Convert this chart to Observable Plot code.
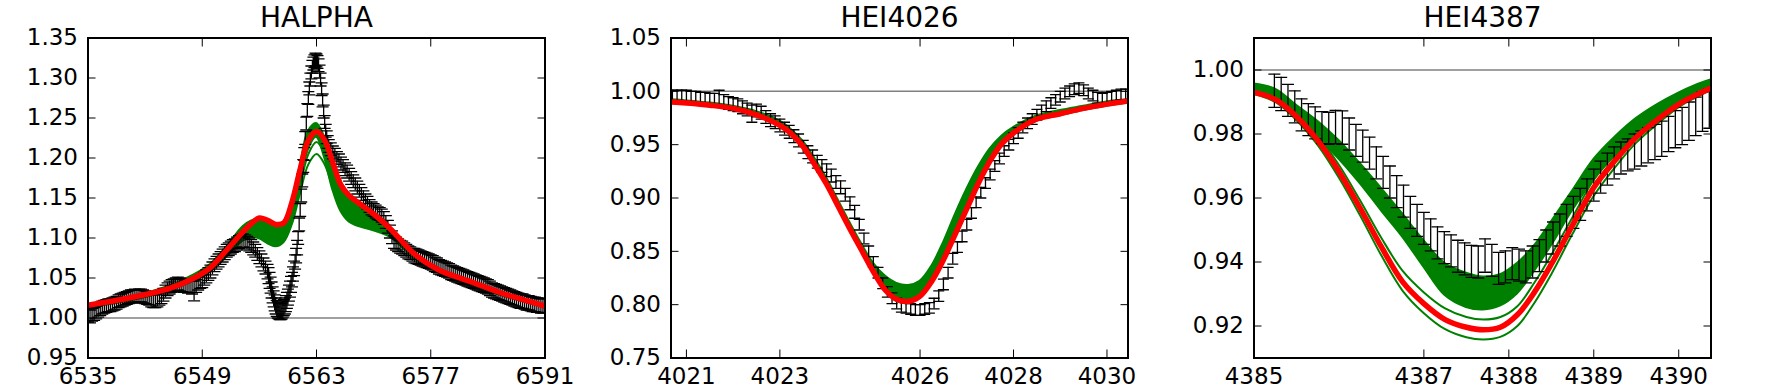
<!DOCTYPE html>
<html><head><meta charset="utf-8">
<script src="https://cdn.jsdelivr.net/npm/d3@7"></script>
<script src="https://cdn.jsdelivr.net/npm/@observablehq/plot@0.6"></script>
<style>
body{margin:0;background:#fff;}
#wrap{position:relative;width:1765px;height:390px;overflow:hidden;background:#fff;}
#wrap svg{position:absolute;top:0;}
</style></head><body><div id="wrap"></div>
<script>
// ---------- HALPHA ----------
const haTitle = "HALPHA";
const haXTicks = [6535, 6549, 6563, 6577, 6591];
const haYTicks = [0.95, 1.00, 1.05, 1.10, 1.15, 1.20, 1.25, 1.30, 1.35];
const haModelX = [6535, 6540, 6545, 6548, 6550, 6552, 6554, 6555, 6556, 6557, 6558, 6559, 6560, 6561, 6562, 6563, 6564, 6565, 6566, 6567, 6568, 6570, 6572, 6575, 6578, 6582, 6586, 6591];
const haRed = [1.016, 1.025, 1.037, 1.050, 1.063, 1.085, 1.108, 1.118, 1.125, 1.122, 1.117, 1.119, 1.145, 1.186, 1.222, 1.233, 1.222, 1.194, 1.166, 1.153, 1.145, 1.130, 1.112, 1.080, 1.060, 1.045, 1.030, 1.015];
const haGreenLo = [1.013, 1.021, 1.034, 1.046, 1.057, 1.076, 1.096, 1.100, 1.099, 1.093, 1.089, 1.094, 1.120, 1.165, 1.210, 1.226, 1.200, 1.160, 1.133, 1.120, 1.115, 1.109, 1.101, 1.075, 1.056, 1.041, 1.027, 1.013];
const haGreenHi = [1.016, 1.025, 1.040, 1.054, 1.067, 1.089, 1.114, 1.121, 1.123, 1.119, 1.114, 1.117, 1.143, 1.190, 1.233, 1.243, 1.226, 1.192, 1.164, 1.150, 1.141, 1.127, 1.110, 1.079, 1.059, 1.043, 1.029, 1.014];
const haLineX = [6557, 6558, 6559, 6560, 6561, 6562, 6563, 6564, 6565, 6566, 6567, 6568, 6570];
const haGreenA = [1.098, 1.093, 1.098, 1.122, 1.165, 1.205, 1.220, 1.205, 1.172, 1.145, 1.130, 1.122, 1.114];
const haGreenB = [1.097, 1.092, 1.096, 1.118, 1.157, 1.192, 1.205, 1.192, 1.163, 1.138, 1.126, 1.119, 1.113];
const haObsX = [
  6535, 6535.25, 6535.5, 6535.75, 6536, 6536.25, 6536.5, 6536.75, 6537, 6537.25, 6537.5, 6537.75, 6538, 6538.25, 6538.5, 6538.75, 6539, 6539.25, 6539.5, 6539.75,
  6540, 6540.25, 6540.5, 6540.75, 6541, 6541.25, 6541.5, 6541.75, 6542, 6542.25, 6542.5, 6542.75, 6543, 6543.25, 6543.5, 6543.75, 6544, 6544.25, 6544.5, 6544.75,
  6545, 6545.25, 6545.5, 6545.75, 6546, 6546.25, 6546.5, 6546.75, 6547, 6547.25, 6547.5, 6547.75, 6548, 6548.25, 6548.5, 6548.75, 6549, 6549.25, 6549.5, 6549.75,
  6550, 6550.25, 6550.5, 6550.75, 6551, 6551.25, 6551.5, 6551.75, 6552, 6552.25, 6552.5, 6552.75, 6553, 6553.25, 6553.5, 6553.75, 6554, 6554.25, 6554.5, 6554.75,
  6555, 6555.25, 6555.5, 6555.75, 6556, 6556.25, 6556.5, 6556.75, 6557, 6557.25, 6557.5, 6557.75, 6558, 6558.25, 6558.5, 6558.75, 6559, 6559.25, 6559.5, 6559.75,
  6560, 6560.25, 6560.5, 6560.75, 6561, 6561.25, 6561.5, 6561.75, 6562, 6562.25, 6562.5, 6562.75, 6563, 6563.25, 6563.5, 6563.75, 6564, 6564.25, 6564.5, 6564.75,
  6565, 6565.25, 6565.5, 6565.75, 6566, 6566.25, 6566.5, 6566.75, 6567, 6567.25, 6567.5, 6567.75, 6568, 6568.25, 6568.5, 6568.75, 6569, 6569.25, 6569.5, 6569.75,
  6570, 6570.25, 6570.5, 6570.75, 6571, 6571.25, 6571.5, 6571.75, 6572, 6572.25, 6572.5, 6572.75, 6573, 6573.25, 6573.5, 6573.75, 6574, 6574.25, 6574.5, 6574.75,
  6575, 6575.25, 6575.5, 6575.75, 6576, 6576.25, 6576.5, 6576.75, 6577, 6577.25, 6577.5, 6577.75, 6578, 6578.25, 6578.5, 6578.75, 6579, 6579.25, 6579.5, 6579.75,
  6580, 6580.25, 6580.5, 6580.75, 6581, 6581.25, 6581.5, 6581.75, 6582, 6582.25, 6582.5, 6582.75, 6583, 6583.25, 6583.5, 6583.75, 6584, 6584.25, 6584.5, 6584.75,
  6585, 6585.25, 6585.5, 6585.75, 6586, 6586.25, 6586.5, 6586.75, 6587, 6587.25, 6587.5, 6587.75, 6588, 6588.25, 6588.5, 6588.75, 6589, 6589.25, 6589.5, 6589.75,
  6590, 6590.25, 6590.5, 6590.75,
  6557.125, 6557.375, 6557.625, 6557.875, 6558.125, 6558.375, 6558.625, 6558.875, 6559.125, 6559.375, 6559.625, 6559.875,
  6560.125, 6560.375, 6560.625, 6560.875, 6561.125, 6561.375, 6561.625, 6561.875, 6562.125, 6562.375, 6562.625, 6562.875, 6563.125, 6563.375, 6563.625, 6563.875, 6564.125, 6564.375];
const haObsY = [
  1.003, 1.002, 1.004, 1.005, 1.007, 1.009, 1.011, 1.013, 1.014, 1.015, 1.016, 1.016, 1.017, 1.018, 1.019, 1.021, 1.022, 1.023, 1.024, 1.025,
  1.026, 1.027, 1.027, 1.028, 1.027, 1.028, 1.028, 1.027, 1.026, 1.025, 1.024, 1.022, 1.021, 1.021, 1.022, 1.024, 1.026, 1.029, 1.033, 1.036,
  1.038, 1.040, 1.041, 1.042, 1.043, 1.042, 1.041, 1.040, 1.040, 1.039, 1.040, 1.038, 1.034, 1.040, 1.043, 1.045, 1.046, 1.049, 1.052, 1.055,
  1.058, 1.062, 1.066, 1.069, 1.072, 1.075, 1.078, 1.081, 1.084, 1.086, 1.088, 1.090, 1.091, 1.093, 1.095, 1.096, 1.097, 1.096, 1.094, 1.092,
  1.090, 1.087, 1.084, 1.080, 1.076, 1.072, 1.067, 1.063, 1.058, 1.047, 1.035, 1.024, 1.015, 1.010, 1.008, 1.009, 1.013, 1.018, 1.026, 1.036,
  1.048, 1.062, 1.078, 1.100, 1.135, 1.172, 1.205, 1.243, 1.275, 1.298, 1.314, 1.321, 1.322, 1.316, 1.298, 1.272, 1.245, 1.226, 1.215, 1.211,
  1.207, 1.204, 1.200, 1.197, 1.193, 1.190, 1.186, 1.183, 1.179, 1.175, 1.171, 1.167, 1.163, 1.159, 1.155, 1.151, 1.147, 1.144, 1.140, 1.137,
  1.135, 1.133, 1.131, 1.130, 1.128, 1.125, 1.120, 1.114, 1.108, 1.101, 1.095, 1.093, 1.091, 1.089, 1.088, 1.086, 1.084, 1.082, 1.081, 1.079,
  1.078, 1.077, 1.076, 1.075, 1.074, 1.073, 1.072, 1.071, 1.070, 1.069, 1.067, 1.066, 1.064, 1.063, 1.062, 1.061, 1.060, 1.059, 1.057, 1.056,
  1.055, 1.054, 1.053, 1.052, 1.051, 1.050, 1.049, 1.048, 1.047, 1.046, 1.045, 1.044, 1.043, 1.042, 1.041, 1.040, 1.039, 1.037, 1.035, 1.034,
  1.033, 1.032, 1.031, 1.030, 1.029, 1.028, 1.027, 1.026, 1.025, 1.024, 1.023, 1.022, 1.021, 1.021, 1.020, 1.019, 1.019, 1.018, 1.017, 1.017,
  1.016, 1.016, 1.015, 1.015,
  1.053, 1.041, 1.029, 1.019, 1.012, 1.009, 1.008, 1.011, 1.015, 1.022, 1.031, 1.042,
  1.055, 1.070, 1.088, 1.117, 1.153, 1.190, 1.225, 1.260, 1.287, 1.307, 1.318, 1.323, 1.320, 1.308, 1.286, 1.258, 1.234, 1.220];
const haObsErr = [
  0.008, 0.008, 0.008, 0.008, 0.008, 0.008, 0.008, 0.008, 0.008, 0.008, 0.008, 0.008, 0.008, 0.008, 0.008, 0.008, 0.008, 0.008, 0.008, 0.008,
  0.008, 0.008, 0.008, 0.008, 0.008, 0.008, 0.008, 0.008, 0.008, 0.008, 0.008, 0.008, 0.008, 0.008, 0.008, 0.008, 0.008, 0.008, 0.008, 0.008,
  0.008, 0.008, 0.008, 0.008, 0.008, 0.008, 0.008, 0.008, 0.008, 0.008, 0.008, 0.008, 0.0125, 0.008, 0.008, 0.008, 0.008, 0.008, 0.008, 0.008,
  0.008, 0.008, 0.008, 0.008, 0.008, 0.008, 0.008, 0.008, 0.008, 0.008, 0.008, 0.008, 0.008, 0.008, 0.008, 0.008, 0.008, 0.008, 0.008, 0.008,
  0.008, 0.008, 0.008, 0.008, 0.008, 0.008, 0.008, 0.008, 0.009, 0.010, 0.010, 0.010, 0.010, 0.010, 0.010, 0.010, 0.010, 0.010, 0.010, 0.010,
  0.009, 0.009, 0.009, 0.008, 0.008, 0.008, 0.008, 0.008, 0.008, 0.008, 0.008, 0.008, 0.008, 0.008, 0.008, 0.008, 0.008, 0.008, 0.008, 0.008,
  0.008, 0.008, 0.008, 0.008, 0.008, 0.008, 0.008, 0.008, 0.008, 0.008, 0.008, 0.008, 0.008, 0.008, 0.008, 0.008, 0.008, 0.008, 0.008, 0.008,
  0.008, 0.008, 0.008, 0.008, 0.008, 0.008, 0.008, 0.008, 0.008, 0.008, 0.008, 0.008, 0.008, 0.008, 0.008, 0.008, 0.008, 0.008, 0.008, 0.008,
  0.009, 0.009, 0.009, 0.009, 0.009, 0.009, 0.009, 0.009, 0.009, 0.009, 0.009, 0.009, 0.009, 0.009, 0.009, 0.009, 0.009, 0.009, 0.009, 0.009,
  0.009, 0.009, 0.009, 0.009, 0.009, 0.009, 0.009, 0.009, 0.009, 0.009, 0.009, 0.009, 0.009, 0.009, 0.009, 0.009, 0.009, 0.009, 0.009, 0.009,
  0.009, 0.009, 0.009, 0.009, 0.009, 0.009, 0.009, 0.009, 0.009, 0.009, 0.009, 0.009, 0.009, 0.009, 0.009, 0.009, 0.009, 0.009, 0.009, 0.009,
  0.009, 0.009, 0.009, 0.009,
  0.010, 0.010, 0.010, 0.010, 0.010, 0.010, 0.010, 0.010, 0.010, 0.010, 0.010, 0.010,
  0.009, 0.009, 0.009, 0.008, 0.008, 0.008, 0.008, 0.008, 0.008, 0.008, 0.008, 0.008, 0.008, 0.008, 0.008, 0.008, 0.008, 0.008];

// ---------- HEI4026 ----------
const h26Title = "HEI4026";
const h26XTicks = [4021, 4023, 4026, 4028, 4030];
const h26YTicks = [0.75, 0.80, 0.85, 0.90, 0.95, 1.00, 1.05];
const h26ModelX = [4020.67, 4021.0, 4021.5, 4022.0, 4022.5, 4023.0, 4023.25, 4023.5, 4023.75, 4024.0, 4024.25, 4024.5, 4024.75, 4025.0, 4025.25, 4025.5, 4025.75, 4026.0, 4026.25, 4026.5, 4026.75, 4027.0, 4027.25, 4027.5, 4027.75, 4028.0, 4028.5, 4029.0, 4029.5, 4030.0, 4030.45];
const h26Red = [0.990, 0.989, 0.987, 0.984, 0.978, 0.968, 0.960, 0.948, 0.931, 0.913, 0.892, 0.871, 0.851, 0.831, 0.814, 0.805, 0.803, 0.808, 0.822, 0.842, 0.866, 0.890, 0.914, 0.935, 0.951, 0.961, 0.974, 0.979, 0.984, 0.988, 0.991];
const h26GreenHi = [0.992, 0.991, 0.989, 0.986, 0.981, 0.972, 0.964, 0.953, 0.937, 0.919, 0.898, 0.877, 0.857, 0.839, 0.827, 0.820, 0.818, 0.822, 0.836, 0.858, 0.884, 0.908, 0.929, 0.946, 0.958, 0.966, 0.977, 0.982, 0.986, 0.990, 0.992];
const h26GreenLo = [0.989, 0.988, 0.986, 0.983, 0.977, 0.967, 0.959, 0.947, 0.930, 0.912, 0.891, 0.870, 0.850, 0.830, 0.813, 0.803, 0.801, 0.806, 0.820, 0.840, 0.864, 0.888, 0.912, 0.933, 0.949, 0.959, 0.972, 0.977, 0.982, 0.986, 0.989];
const h26ObsX = [4020.7, 4020.8, 4020.9, 4021.0, 4021.1, 4021.2, 4021.3, 4021.4, 4021.5, 4021.6, 4021.7, 4021.8, 4021.9, 4022.0, 4022.1, 4022.2, 4022.3, 4022.4, 4022.5, 4022.6, 4022.7, 4022.8, 4022.9, 4023.0, 4023.1, 4023.2, 4023.3, 4023.4, 4023.5, 4023.6, 4023.7, 4023.8, 4023.9, 4024.0, 4024.1, 4024.2, 4024.3, 4024.4, 4024.5, 4024.6, 4024.7, 4024.8, 4024.9, 4025.0, 4025.1, 4025.2, 4025.3, 4025.4, 4025.5, 4025.6, 4025.7, 4025.8, 4025.9, 4026.0, 4026.1, 4026.2, 4026.3, 4026.4, 4026.5, 4026.6, 4026.7, 4026.8, 4026.9, 4027.0, 4027.1, 4027.2, 4027.3, 4027.4, 4027.5, 4027.6, 4027.7, 4027.8, 4027.9, 4028.0, 4028.1, 4028.2, 4028.3, 4028.4, 4028.5, 4028.6, 4028.7, 4028.8, 4028.9, 4029.0, 4029.1, 4029.2, 4029.3, 4029.4, 4029.5, 4029.6, 4029.7, 4029.8, 4029.9, 4030.0, 4030.1, 4030.2, 4030.3, 4030.4];
const h26ObsY = [0.995, 0.995, 0.995, 0.995, 0.994, 0.994, 0.993, 0.993, 0.992, 0.992, 0.993, 0.991, 0.989, 0.988, 0.987, 0.985, 0.983, 0.979, 0.982, 0.980, 0.976, 0.973, 0.971, 0.968, 0.965, 0.962, 0.958, 0.954, 0.948, 0.943, 0.939, 0.934, 0.930, 0.926, 0.921, 0.915, 0.910, 0.903, 0.895, 0.887, 0.875, 0.862, 0.850, 0.840, 0.830, 0.820, 0.812, 0.806, 0.801, 0.798, 0.797, 0.796, 0.795, 0.795, 0.796, 0.797, 0.801, 0.808, 0.819, 0.830, 0.843, 0.854, 0.864, 0.875, 0.886, 0.896, 0.905, 0.914, 0.922, 0.930, 0.937, 0.944, 0.950, 0.956, 0.961, 0.966, 0.970, 0.974, 0.978, 0.982, 0.986, 0.989, 0.992, 0.995, 0.998, 1.000, 1.002, 1.003, 1.001, 0.998, 0.996, 0.994, 0.993, 0.994, 0.995, 0.996, 0.997, 0.997];
const h26ObsErr = [0.006, 0.006, 0.006, 0.006, 0.006, 0.006, 0.006, 0.006, 0.006, 0.006, 0.008, 0.006, 0.006, 0.006, 0.006, 0.006, 0.006, 0.008, 0.006, 0.006, 0.006, 0.006, 0.006, 0.006, 0.006, 0.006, 0.006, 0.006, 0.006, 0.006, 0.006, 0.006, 0.006, 0.006, 0.006, 0.006, 0.006, 0.006, 0.006, 0.006, 0.005, 0.005, 0.005, 0.005, 0.005, 0.005, 0.005, 0.005, 0.005, 0.005, 0.005, 0.005, 0.005, 0.005, 0.005, 0.005, 0.005, 0.005, 0.005, 0.005, 0.005, 0.005, 0.005, 0.005, 0.005, 0.005, 0.005, 0.005, 0.005, 0.005, 0.005, 0.005, 0.005, 0.005, 0.005, 0.005, 0.005, 0.005, 0.005, 0.005, 0.005, 0.005, 0.005, 0.005, 0.005, 0.005, 0.005, 0.005, 0.005, 0.005, 0.005, 0.005, 0.005, 0.005, 0.005, 0.005, 0.005, 0.005];

// ---------- HEI4387 ----------
const h87Title = "HEI4387";
const h87XTicks = [4385, 4387, 4388, 4389, 4390];
const h87YTicks = [0.92, 0.94, 0.96, 0.98, 1.00];
const h87ModelX = [4385.0, 4385.25, 4385.5, 4385.75, 4386.0, 4386.25, 4386.5, 4386.75, 4387.0, 4387.25, 4387.5, 4387.7, 4387.9, 4388.1, 4388.3, 4388.5, 4388.75, 4389.0, 4389.25, 4389.5, 4389.75, 4390.0, 4390.2, 4390.38];
const h87Red = [0.9930, 0.9908, 0.9855, 0.9780, 0.9683, 0.9568, 0.9447, 0.9338, 0.9270, 0.9220, 0.9196, 0.9188, 0.9196, 0.9235, 0.9305, 0.9393, 0.9515, 0.9633, 0.9717, 0.9790, 0.9845, 0.9893, 0.9922, 0.9944];
const h87GreenHi = [0.9956, 0.9940, 0.9890, 0.9840, 0.9780, 0.9708, 0.9630, 0.9550, 0.9467, 0.9395, 0.9365, 0.9353, 0.9360, 0.9395, 0.9450, 0.9525, 0.9622, 0.9720, 0.9790, 0.9848, 0.9892, 0.9928, 0.9952, 0.9969];
const h87GreenLo = [0.9935, 0.9915, 0.9862, 0.9790, 0.9722, 0.9645, 0.9560, 0.9478, 0.9384, 0.9295, 0.9258, 0.9250, 0.9262, 0.9300, 0.9370, 0.9450, 0.9560, 0.9655, 0.9730, 0.9792, 0.9845, 0.9893, 0.9925, 0.9948];
const h87GreenC = [0.9935, 0.9915, 0.9865, 0.9795, 0.9703, 0.9592, 0.9475, 0.9372, 0.9305, 0.9255, 0.9228, 0.9220, 0.9228, 0.9262, 0.9335, 0.9422, 0.9540, 0.9657, 0.9738, 0.9806, 0.9858, 0.9902, 0.9930, 0.9950];
const h87GreenD = [0.9925, 0.9900, 0.9843, 0.9765, 0.9663, 0.9545, 0.9420, 0.9310, 0.9240, 0.9190, 0.9165, 0.9158, 0.9166, 0.9200, 0.9272, 0.9362, 0.9488, 0.9607, 0.9696, 0.9773, 0.9832, 0.9884, 0.9914, 0.9938];
const h87ObsX = [4385.24, 4385.32, 4385.40, 4385.48, 4385.56, 4385.64, 4385.72, 4385.80, 4385.88, 4385.96, 4386.04, 4386.12, 4386.20, 4386.28, 4386.36, 4386.44, 4386.52, 4386.60, 4386.68, 4386.76, 4386.84, 4386.92, 4387.00, 4387.08, 4387.16, 4387.24, 4387.32, 4387.40, 4387.48, 4387.56, 4387.64, 4387.72, 4387.80, 4387.88, 4387.96, 4388.04, 4388.12, 4388.20, 4388.28, 4388.36, 4388.44, 4388.52, 4388.60, 4388.68, 4388.76, 4388.84, 4388.92, 4389.00, 4389.08, 4389.16, 4389.24, 4389.32, 4389.40, 4389.48, 4389.56, 4389.64, 4389.72, 4389.80, 4389.88, 4389.96, 4390.04, 4390.12, 4390.20, 4390.28, 4390.36];
const h87ObsY = [0.9935, 0.9925, 0.9905, 0.9885, 0.9860, 0.9845, 0.9835, 0.9820, 0.9818, 0.9822, 0.9820, 0.9800, 0.9780, 0.9762, 0.9740, 0.9710, 0.9680, 0.9650, 0.9620, 0.9590, 0.9555, 0.9530, 0.9505, 0.9485, 0.9460, 0.9445, 0.9435, 0.9418, 0.9410, 0.9402, 0.9400, 0.9420, 0.9405, 0.9380, 0.9385, 0.9395, 0.9390, 0.9385, 0.9400, 0.9420, 0.9450, 0.9475, 0.9500, 0.9530, 0.9555, 0.9580, 0.9610, 0.9640, 0.9665, 0.9690, 0.9710, 0.9725, 0.9735, 0.9745, 0.9755, 0.9765, 0.9775, 0.9785, 0.9800, 0.9815, 0.9825, 0.9840, 0.9855, 0.9870, 0.9880];
const h87ObsErr = [0.0052, 0.0052, 0.0050, 0.0050, 0.0050, 0.0050, 0.0050, 0.0050, 0.0050, 0.0052, 0.0052, 0.0050, 0.0050, 0.0050, 0.0050, 0.0050, 0.0050, 0.0050, 0.0050, 0.0050, 0.0050, 0.0050, 0.0050, 0.0050, 0.0050, 0.0050, 0.0050, 0.0050, 0.0050, 0.0050, 0.0050, 0.0052, 0.0050, 0.0050, 0.0050, 0.0050, 0.0050, 0.0050, 0.0050, 0.0050, 0.0050, 0.0050, 0.0050, 0.0050, 0.0050, 0.0050, 0.0050, 0.0050, 0.0050, 0.0050, 0.0050, 0.0050, 0.0050, 0.0055, 0.0055, 0.0055, 0.0055, 0.0055, 0.0055, 0.0058, 0.0058, 0.0060, 0.0060, 0.0062, 0.0062];

// ---------- drawing ----------
const GREEN = "#008000", RED = "#ff0000";
const capSymbol = {draw(ctx, size) { const w = Math.sqrt(size / Math.PI); ctx.moveTo(-w, 0); ctx.lineTo(w, 0); }};
const FRAME_W = 457;
const ML = 87.5, MR = 40;

function panel(cfg) {
  const model = cfg.modelX.map((x, i) => ({x, red: cfg.red[i], lo: cfg.lo[i], hi: cfg.hi[i]}));
  const obs = cfg.obsX.map((x, i) => ({x, y: cfg.obsY[i], e: cfg.obsErr[i]}));
  const extra = (cfg.lines || []).map(L => L.y.map((y, i) => ({x: L.x[i], y})));
  const marks = [
    Plot.areaY(model, {x: "x", y1: "lo", y2: "hi", fill: GREEN, stroke: GREEN, strokeWidth: 2, curve: "catmull-rom", clip: true}),
    ...extra.map(rows => Plot.line(rows, {x: "x", y: "y", stroke: GREEN, strokeWidth: 2, curve: "catmull-rom", clip: true})),
    Plot.ruleY([1], {stroke: "#808080", strokeWidth: 1.5}),
    Plot.ruleX(obs, {x: "x", y1: d => d.y - d.e, y2: d => d.y + d.e, stroke: "black", strokeWidth: 1.3, clip: true}),
    Plot.dot(obs, {x: "x", y: d => d.y + d.e, symbol: capSymbol, r: cfg.cap, fill: "none", stroke: "black", strokeWidth: 1.3, clip: true}),
    Plot.dot(obs, {x: "x", y: d => d.y - d.e, symbol: capSymbol, r: cfg.cap, fill: "none", stroke: "black", strokeWidth: 1.3, clip: true}),
    Plot.line(model, {x: "x", y: "red", stroke: RED, strokeWidth: 5.5, curve: "catmull-rom", clip: true}),
    Plot.frame({stroke: "black", strokeWidth: 2}),
    Plot.axisX({anchor: "bottom", ticks: cfg.xTicks, tickSize: -8, tickPadding: 18, tickFormat: "d", label: null, stroke: "black"}),
    Plot.axisX({anchor: "top", ticks: cfg.xTicks, tickSize: -8, fill: "none", label: null, stroke: "black"}),
    Plot.axisY({anchor: "left", ticks: cfg.yTicks, tickSize: -8, tickPadding: 18, tickFormat: d3.format(".2f"), label: null, stroke: "black"}),
    Plot.axisY({anchor: "right", ticks: cfg.yTicks, tickSize: -8, fill: "none", label: null, stroke: "black"}),
    Plot.text([cfg.title], {frameAnchor: "top", lineAnchor: "middle", dy: -20, fontSize: 28, fill: "black"})
  ];
  const svg = Plot.plot({
    width: ML + FRAME_W + MR, height: 390,
    marginLeft: ML, marginRight: MR, marginTop: 37.5, marginBottom: 32.5,
    x: {type: "linear", domain: cfg.xDomain},
    y: {type: "linear", domain: cfg.yDomain},
    style: {fontFamily: "DejaVu Sans", fontSize: "23px", color: "black", background: "transparent", overflow: "visible"},
    marks
  });
  svg.style.left = cfg.left + "px";
  document.getElementById("wrap").appendChild(svg);
}

panel({title: haTitle, left: 0, xDomain: [6535, 6591], yDomain: [0.95, 1.35], xTicks: haXTicks, yTicks: haYTicks, cap: 6,
  modelX: haModelX, red: haRed, lo: haGreenLo, hi: haGreenHi,
  lines: [{x: haLineX, y: haGreenA}, {x: haLineX, y: haGreenB}],
  obsX: haObsX, obsY: haObsY, obsErr: haObsErr});
panel({title: h26Title, left: 582.5, xDomain: [4020.67, 4030.45], yDomain: [0.75, 1.05], xTicks: h26XTicks, yTicks: h26YTicks, cap: 5.5,
  modelX: h26ModelX, red: h26Red, lo: h26GreenLo, hi: h26GreenHi,
  obsX: h26ObsX, obsY: h26ObsY, obsErr: h26ObsErr});
panel({title: h87Title, left: 1165.8, xDomain: [4385, 4390.38], yDomain: [0.91, 1.01], xTicks: h87XTicks, yTicks: h87YTicks, cap: 6,
  modelX: h87ModelX, red: h87Red, lo: h87GreenLo, hi: h87GreenHi,
  lines: [{x: h87ModelX, y: h87GreenC}, {x: h87ModelX, y: h87GreenD}],
  obsX: h87ObsX, obsY: h87ObsY, obsErr: h87ObsErr});
</script></body></html>
